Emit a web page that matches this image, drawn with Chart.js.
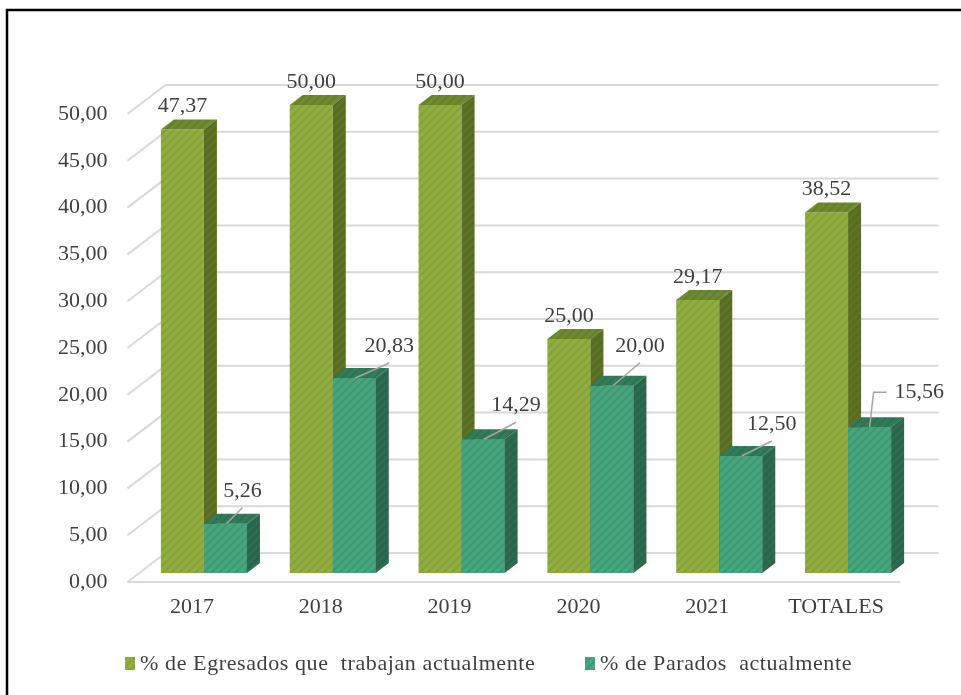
<!DOCTYPE html>
<html>
<head>
<meta charset="utf-8">
<script src="https://cdn.jsdelivr.net/npm/chart.js@4.4.0/dist/chart.umd.min.js"></script>
<style>
  html, body { margin: 0; padding: 0; background: #fff; }
  canvas { display: block; }
</style>
</head>
<body>
<canvas id="chart" width="961" height="695"></canvas>
<script>
const categories = ['2017', '2018', '2019', '2020', '2021', 'TOTALES'];
const trabajan = [47.37, 50.00, 50.00, 25.00, 29.17, 38.52];
const parados = [5.26, 20.83, 14.29, 20.00, 12.50, 15.56];
const yTicks = [0, 5, 10, 15, 20, 25, 30, 35, 40, 45, 50];
const seriesNames = ['% de Egresados que  trabajan actualmente', '% de Parados  actualmente'];

// where the leader of each teal label ends, relative to the top of the bar
const leaderNudge = [[17, -16], [35, -15], [33, -17], [28, -23], [31, -15], null];

const FONT = '22px "Liberation Serif", "DejaVu Serif", serif';
const TEXT = '#3f3f3f';
const GRID = '#d9d9d9';
const DEPTH = { x: 13, y: -10 };   // bar depth
const BACK = { x: 26, y: -20 };    // back wall, seen from the bar plane
const FRONT = { x: -12, y: 9 };    // front floor edge, seen from the bar plane

const ctx0 = document.getElementById('chart').getContext('2d');

function hatch(base, stripe) {
  const c = document.createElement('canvas');
  c.width = 8; c.height = 8;
  const g = c.getContext('2d');
  g.fillStyle = base;
  g.fillRect(0, 0, 8, 8);
  g.strokeStyle = stripe;
  g.lineWidth = 2;
  g.beginPath();
  g.moveTo(-1, 9); g.lineTo(9, -1);
  g.moveTo(-5, 5); g.lineTo(5, -5);
  g.moveTo(3, 13); g.lineTo(13, 3);
  g.stroke();
  return ctx0.createPattern(c, 'repeat');
}

const colors = [
  { front: hatch('#93ae40', '#86a13a'), top: hatch('#6f8a2f', '#66802b'), side: hatch('#5e7226', '#576a23') },
  { front: hatch('#49a57d', '#3e9871'), top: hatch('#327c5a', '#2d7352'), side: hatch('#2d6c50', '#28644a') }
];

const fmt = v => v.toFixed(2).replace('.', ',');

function poly(ctx, pts, fill) {
  ctx.beginPath();
  ctx.moveTo(pts[0][0], pts[0][1]);
  pts.slice(1).forEach(p => ctx.lineTo(p[0], p[1]));
  ctx.closePath();
  ctx.fillStyle = fill;
  ctx.fill();
}

function boxFaces(ctx, el, c) {
  const x0 = el.x - el.width / 2, x1 = el.x + el.width / 2;
  const top = el.y, base = el.base;
  poly(ctx, [[x0, top], [x1, top], [x1 + DEPTH.x, top + DEPTH.y], [x0 + DEPTH.x, top + DEPTH.y]], c.top);
  poly(ctx, [[x1, top], [x1 + DEPTH.x, top + DEPTH.y], [x1 + DEPTH.x, base + DEPTH.y], [x1, base]], c.side);
}

const scene3d = {
  id: 'scene3d',
  beforeDraw(chart) {
    const ctx = chart.ctx;
    ctx.save();
    ctx.strokeStyle = '#000';
    ctx.lineWidth = 2.5;
    ctx.beginPath();
    ctx.moveTo(7, 695); ctx.lineTo(7, 10); ctx.lineTo(961, 10);
    ctx.stroke();
    ctx.restore();
  },
  beforeDatasetsDraw(chart) {
    const ctx = chart.ctx;
    const ys = chart.scales.y, xs = chart.scales.x;
    const left = chart.chartArea.left, right = chart.chartArea.right;
    ctx.save();
    ctx.strokeStyle = GRID;
    ctx.lineWidth = 2;
    yTicks.forEach(v => {
      const y = ys.getPixelForValue(v);
      ctx.beginPath();
      ctx.moveTo(left + FRONT.x, y + FRONT.y);
      ctx.lineTo(left + BACK.x, y + BACK.y);
      ctx.lineTo(right + BACK.x, y + BACK.y);
      ctx.stroke();
    });
    // front edge of the floor
    const y0 = ys.getPixelForValue(0);
    ctx.beginPath();
    ctx.moveTo(left + FRONT.x, y0 + FRONT.y);
    ctx.lineTo(right + FRONT.x, y0 + FRONT.y);
    ctx.stroke();

    ctx.font = FONT;
    ctx.fillStyle = TEXT;
    ctx.textAlign = 'right';
    ctx.textBaseline = 'middle';
    yTicks.forEach(v => {
      ctx.fillText(fmt(v), left + FRONT.x - 20, ys.getPixelForValue(v) + FRONT.y);
    });
    ctx.textAlign = 'center';
    categories.forEach((c, i) => {
      ctx.fillText(c, xs.getPixelForValue(i) + FRONT.x, y0 + FRONT.y + 25);
    });
    ctx.restore();
  },
  afterDatasetsDraw(chart) {
    const ctx = chart.ctx;
    const green = chart.getDatasetMeta(0).data;
    const teal = chart.getDatasetMeta(1).data;
    ctx.save();
    categories.forEach((c, i) => {
      boxFaces(ctx, green[i], colors[0]);
      teal[i].draw(ctx);
      boxFaces(ctx, teal[i], colors[1]);
    });

    ctx.font = FONT;
    ctx.fillStyle = TEXT;
    ctx.textBaseline = 'middle';
    ctx.textAlign = 'center';
    green.forEach((el, i) => {
      ctx.fillText(fmt(trabajan[i]), el.x, el.y - 23);
    });
    ctx.strokeStyle = '#a6a6a6';
    ctx.lineWidth = 1.5;
    teal.forEach((el, i) => {
      const n = leaderNudge[i];
      ctx.beginPath();
      if (n) {
        ctx.moveTo(el.x + 1, el.y);
        ctx.lineTo(el.x + n[0], el.y + n[1]);
        ctx.stroke();
        ctx.textAlign = 'center';
        ctx.fillText(fmt(parados[i]), el.x + n[0], el.y + n[1] - 17);
      } else {
        ctx.moveTo(el.x, el.y);
        ctx.lineTo(el.x + 4, el.y - 35);
        ctx.lineTo(el.x + 17, el.y - 35);
        ctx.stroke();
        ctx.textAlign = 'left';
        ctx.fillText(fmt(parados[i]), el.x + 25, el.y - 35);
      }
    });

    // legend
    const lx = [125, 585];
    ctx.letterSpacing = '0.6px';
    seriesNames.forEach((name, k) => {
      ctx.fillStyle = colors[k].front;
      ctx.fillRect(lx[k], 657, 10, 13);
      ctx.fillStyle = TEXT;
      ctx.textAlign = 'left';
      ctx.fillText(name, lx[k] + 15, 664);
    });
    ctx.restore();
  }
};

new Chart(ctx0, {
  type: 'bar',
  data: {
    labels: categories,
    datasets: [
      { label: seriesNames[0], data: trabajan, backgroundColor: colors[0].front, borderWidth: 0 },
      { label: seriesNames[1], data: parados, backgroundColor: colors[1].front, borderWidth: 0 }
    ]
  },
  options: {
    responsive: false,
    animation: false,
    layout: { padding: { left: 139.5, right: 48.5, top: 105, bottom: 122 } },
    datasets: { bar: { categoryPercentage: 0.668, barPercentage: 1 } },
    scales: {
      x: { display: false },
      y: { display: false, min: 0, max: 50 }
    },
    plugins: {
      legend: { display: false },
      tooltip: { enabled: false }
    }
  },
  plugins: [scene3d]
});
</script>
</body>
</html>
